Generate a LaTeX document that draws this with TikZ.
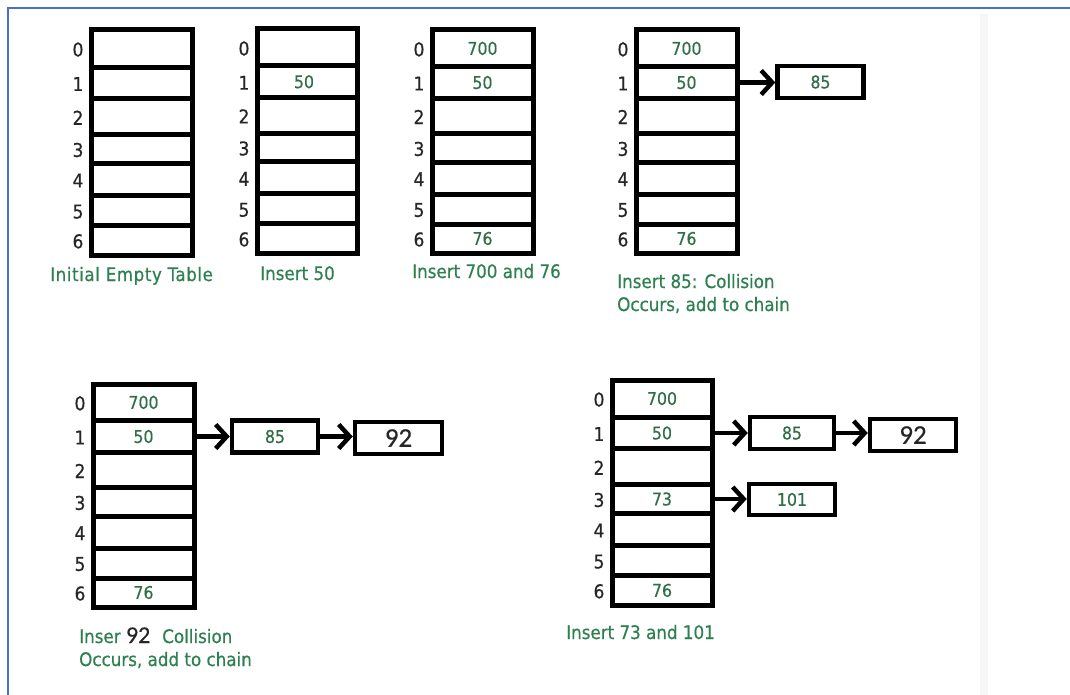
\documentclass[tikz,border=0pt]{standalone}
\usepackage{fontspec}
\setmainfont{DejaVu Sans Condensed}[FakeBold=0.5]
\newfontfamily\digitfont{Carlito}[FakeBold=0.3]
\usetikzlibrary{arrows.meta,calc}

\definecolor{capgreen}{RGB}{46,128,80}
\definecolor{valgreen}{RGB}{48,110,72}
\definecolor{frameblue}{RGB}{68,114,196}
\definecolor{inkgray}{RGB}{38,38,38}

\tikzset{
  cell/.style={draw=black, line width=5pt, inner sep=0pt},
  idx/.style={font=\fontsize{19}{22}\selectfont, text=inkgray, inner sep=0pt},
  val/.style={font=\fontsize{17.5}{22}\selectfont, text=valgreen, inner sep=0pt},
  chainbox/.style={draw=black, line width=4.5pt, inner sep=0pt, minimum width=86pt,
    minimum height=32pt, font=\fontsize{17.5}{22}\selectfont, text=valgreen},
  bigval/.style={font=\digitfont\fontsize{27}{30}\selectfont, text=inkgray},
  caption/.style={anchor=base west, inner sep=0pt, font=\fontsize{18.6}{22}\selectfont, text=capgreen},
  link/.style={line width=4.5pt, -{Straight Barb[length=11pt,width=24pt]}},
}

% a hash table of 7 slots: name, left, right, top, bottom (line centres, px)
\newcommand\hashtable[5]{%
  \foreach \r/\fa/\fb in {0/0/.165,1/.165/.306,2/.306/.465,3/.465/.593,4/.593/.736,5/.736/.87,6/.87/1}{
    \pgfmathsetmacro\cy{#4+(\fa+\fb)/2*(#5-#4)}
    \pgfmathsetmacro\ch{(\fb-\fa)*(#5-#4)}
    \pgfmathsetmacro\cx{(#2+#3)/2}
    \pgfmathsetmacro\cw{#3-#2}
    \node[cell, minimum width=\cw pt, minimum height=\ch pt] (#1r\r) at (\cx,\cy) {};
    \node[idx] (#1i\r) at (#2-13,\cy+1) {\r};
  }%
}

\begin{document}
\begin{tikzpicture}[x=1pt,y=-1pt]
\useasboundingbox (0,0) rectangle (1070,695);
\fill[white] (0,0) rectangle (1070,695);

% window frame
\draw[black!3.5, line width=8pt] (984,14) -- (984,695);
\draw[frameblue, line width=2pt] (8,695) -- (8,8) -- (1070,8);

% 1: initial empty table
\hashtable{ta}{91}{192}{30}{255}
\node[caption] (capa) at (50,281) {\addfontfeature{LetterSpace=3}Initial Empty Table};

% 2: insert 50
\hashtable{tb}{257}{357}{29}{253}
\node[val] (tbv1) at ($(tbr1)+(-3,0)$) {50};
\node[caption] (capb) at (260,280) {Insert 50};

% 3: insert 700 and 76
\hashtable{tc}{432}{533}{30}{253}
\node[val] (tcv0) at (tcr0) {700};
\node[val] (tcv1) at (tcr1) {50};
\node[val] (tcv6) at (tcr6) {76};
\node[caption] (capc) at (412,278) {Insert 700 and 76};

% 4: insert 85, collision in slot 1
\hashtable{td}{636}{737}{30}{253}
\node[val] (tdv0) at (tdr0) {700};
\node[val] (tdv1) at (tdr1) {50};
\node[val] (tdv6) at (tdr6) {76};
\node[chainbox] (td85) at (820.5,82) {85};
\draw[link] (tdr1.east) -- (tdr1.east -| td85.west);
\node[caption] (capd1) at (617,288) {Insert 85: Collision};
\node[caption] (capd2) at (617,311) {Occurs, add to chain};

% 5: insert 92, chained after 85
\hashtable{te}{93}{194}{384}{607}
\node[val] (tev0) at (ter0) {700};
\node[val] (tev1) at (ter1) {50};
\node[val] (tev6) at (ter6) {76};
\node[chainbox] (te85) at (275,436.5) {85};
\node[chainbox, bigval, minimum width=87pt] (te92) at (398.5,438) {92};
\draw[link] (ter1.east) -- (ter1.east -| te85.west);
\draw[link] (te85.east) -- (te85.east -| te92.west);
\node[caption] (cape1) at (79,643) {Inser \textcolor{inkgray}{\digitfont\fontsize{24}{26}\selectfont 92}\hspace{12pt}Collision};
\node[caption] (cape2) at (79,666) {Occurs, add to chain};

% 6: insert 73 and 101
\hashtable{tf}{612}{712}{380}{605}
\node[val] (tfv0) at (tfr0) {700};
\node[val] (tfv1) at (tfr1) {50};
\node[val] (tfv3) at (tfr3) {73};
\node[val] (tfv6) at (tfr6) {76};
\node[chainbox, minimum width=84pt] (tf85) at (792,433) {85};
\node[chainbox, bigval, minimum width=86pt] (tf92) at (913,435) {92};
\node[chainbox, minimum width=86pt, minimum height=31pt] (tf101) at (792,499.5) {101};
\draw[link] (tfr1.east) -- (tfr1.east -| tf85.west);
\draw[link] (tf85.east) -- (tf85.east -| tf92.west);
\draw[link] (tfr3.east) -- (tfr3.east -| tf101.west);
\node[caption] (capf) at (566,639) {Insert 73 and 101};
\end{tikzpicture}
\end{document}
